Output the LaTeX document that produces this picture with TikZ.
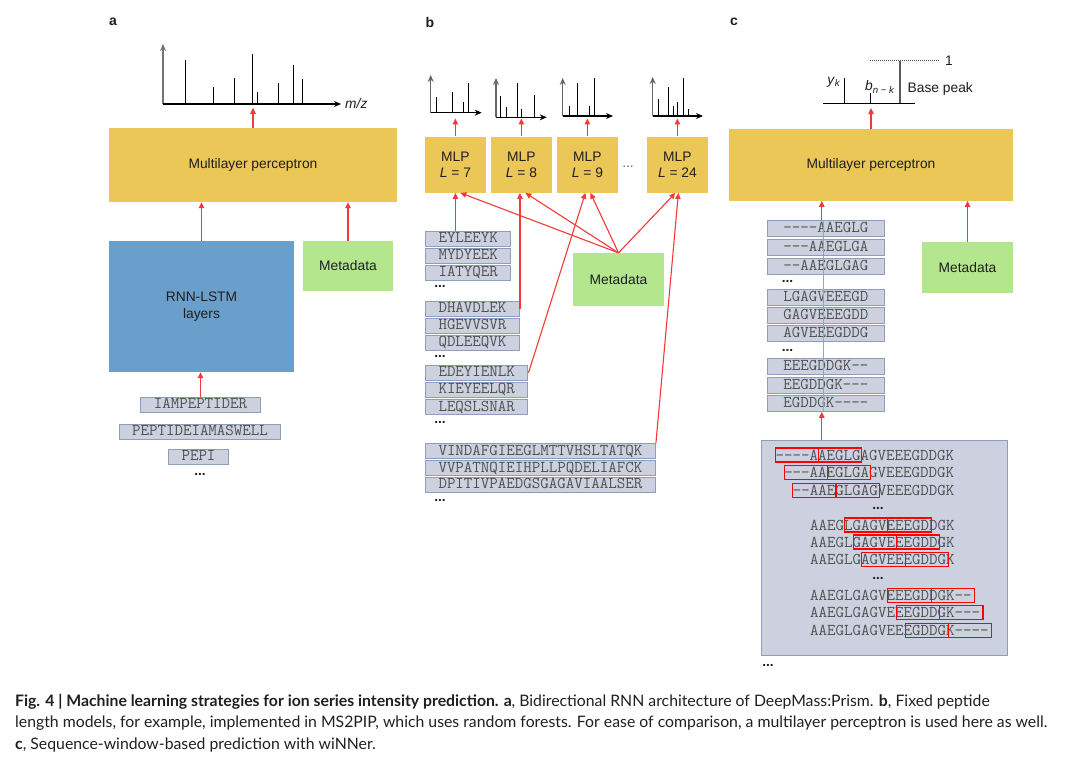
\documentclass[tikz,border=0pt]{standalone}
\usepackage{fontspec}
\setsansfont{Liberation Sans}
\newfontfamily\captionfont{Lato}
\usepackage{xcolor}
\usetikzlibrary{arrows.meta}

\definecolor{mlpyellow}{HTML}{EAC757}
\definecolor{rnnblue}{HTML}{6A9FCC}
\definecolor{metagreen}{HTML}{B3E68D}
\definecolor{pepfill}{HTML}{CDD1DF}
\definecolor{pepedge}{HTML}{8D9DBE}
\definecolor{peptext}{HTML}{505050}
\definecolor{feedred}{HTML}{F23A3A}
\definecolor{winblue}{HTML}{7FAAD8}
\definecolor{captext}{HTML}{231F20}

\begin{document}
\begin{tikzpicture}[x=1pt,y=-1pt,inner sep=0pt,
    font=\sffamily\fontsize{13.8}{17}\selectfont,text=black!88,
    block/.style={draw=none,align=center},
    pep/.style={draw=pepedge,fill=pepfill,line width=1pt,text=peptext,
        font=\ttfamily\fontsize{16.5}{16.5}\selectfont,inner xsep=13pt,
        text height=10pt,text depth=2pt,minimum height=15pt},
    seq/.style={text=peptext,font=\ttfamily\fontsize{16.5}{16.5}\selectfont,
        text height=10pt,text depth=0pt},
    feed/.style={draw=feedred,line width=1.1pt,-{Triangle[length=6pt,width=5.5pt]}},
    axis/.style={line width=1.3pt,-{Stealth[length=7pt,width=6pt]}},
    peak/.style={line width=1pt},
    dots/.style={font=\sffamily\bfseries\fontsize{13.8}{14}\selectfont,text height=2pt,text depth=0pt},
    window/.style={draw=red,line width=1.1pt},
    panel/.style={font=\sffamily\bfseries\fontsize{14}{14}\selectfont},
    capline/.style={anchor=base west,text=captext,font=\captionfont\fontsize{15.8}{21.5}\selectfont},
]
\fill[white] (0,0) rectangle (1080,765);
\useasboundingbox (0,0) rectangle (1080,765);

% a
\node[panel] (labA) at (113,22) {a};
\foreach \px/\py in {185.7/60,213/87,234/78,252/54,257/92,278/83,293/65,302/79}
    \draw[peak] (\px,104) -- (\px,\py);
\draw[axis,draw=black!55] (163,104) -- (163,44);
\draw[axis] (163,104) -- (341,104);
\node[anchor=west,font=\sffamily\itshape\fontsize{13.8}{14}\selectfont] (mzA) at (345,104) {m/z};

\node[block,fill=mlpyellow,minimum width=288pt,minimum height=74pt] (mlpA) at (253,165) {Multilayer perceptron};
\node[block,fill=rnnblue,minimum width=185pt,minimum height=131pt] (rnn) at (201.5,306.5) {RNN-LSTM\\layers};
\node[block,fill=metagreen,minimum width=90pt,minimum height=50pt] (metaA) at (348,266) {Metadata};
\node[pep] (pepA1) at (200.5,404.5) {IAMPEPTIDER};
\node[pep] (pepA2) at (200,431.5) {PEPTIDEIAMASWELL};
\node[pep] (pepA3) at (198.5,456.5) {PEPI};
\node[dots] (dotsA) at (200,474) {...};

\coordinate (specA) at ([yshift=20pt]mlpA.north);
\draw[feed] (mlpA.north) -- (specA);
\draw[feed] (rnn.north) -- (rnn.north |- mlpA.south);
\draw[feed] (metaA.north) -- (metaA.north |- mlpA.south);
\draw[feed] (pepA1.north) -- (pepA1.north |- rnn.south);

% b
\node[panel] (labB) at (430,22) {b};
\foreach \ox/\oy/\w/\h/\pks in {430.7/112.7/51/37.7/{5.3/15.7,21.3/20.7,32.3/10.7,37.3/29.7},
        496/117.3/50.7/39.3/{4.7/21.6,10.7/10.6,21/34.3,25/8.3,38/22.3},
        562.7/116/50.3/38/{6.3/10,15/33,26.3/10,31.3/38},
        652.7/116/50.3/39/{5.3/17,15.3/29,20.3/10,25/14,30.3/38,35.3/7}} {
    \begin{scope}[shift={(\ox,\oy)}]
        \foreach \dx/\ph in \pks
            \draw[peak] (\dx,0) -- (\dx,-\ph);
        \draw[axis,draw=black!60] (0,0) -- (0,-\h);
        \draw[axis] (0,0) -- (\w,0);
    \end{scope}
}
\foreach \n/\cx in {7/455.4,8/521.4,9/587.4,24/677.4} {
    \node[block,fill=mlpyellow,minimum width=60.7pt,minimum height=56pt,
        font=\sffamily\fontsize{13.8}{16}\selectfont] (mlp\n) at (\cx,164.7) {MLP\\\textit{L} = \n};
    \coordinate (spec\n) at ([yshift=18pt]mlp\n.north);
    \draw[feed] (mlp\n.north) -- (spec\n);
}
\node[dots,font=\sffamily\fontsize{13.8}{14}\selectfont,text=black!60] (dotsB) at (628,166.7) {...};
\node[block,fill=metagreen,minimum width=91pt,minimum height=52.7pt] (metaB) at (618.5,279.4) {Metadata};
\foreach \n/\dx in {7/5,8/4,9/3,24/-2}
    \draw[feed] (metaB.north) -- ([xshift=\dx pt]mlp\n.south);

\foreach \seq/\yy [count=\i] in {EYLEEYK/238.7,MYDYEEK/255.5,IATYQER/272.5,
        DHAVDLEK/308.8,HGEVVSVR/325.8,QDLEEQVK/342.5,
        EDEYIENLK/372.8,KIEYEELQR/389.8,LEQSLSNAR/407,
        VINDAFGIEEGLMTTVHSLTATQK/451,VVPATNQIEIHPLLPQDELIAFCK/468,DPITIVPAEDGSGAGAVIAALSER/484.8}
    \node[pep,anchor=west] (pepB\i) at (425,\yy) {\seq};
\foreach \yy [count=\i] in {286.7,356.7,422.7,500}
    \node[dots] (dotsB\i) at (440,\yy) {...};

\draw[feed] (pepB1.north -| mlp7.south) -- (mlp7.south);
\draw[feed] (pepB4.east) -- (pepB4.east |- mlp8.south);
\draw[feed] (pepB7.east) -- ([xshift=-2pt]mlp9.south);
\draw[feed] (pepB10.north east) -- ([xshift=1pt]mlp24.south);

% c
\node[panel] (labC) at (734,22) {c};
\draw[line width=1.1pt] (823,103.3) -- (915,103.3);
\foreach \px/\py in {844.3/78.3,870.7/93.3}
    \draw[line width=1.1pt] (\px,103.3) -- (\px,\py);
\draw[line width=1.3pt,black!65] (900,103.3) -- (900,60.7);
\draw[line width=1pt,dash pattern=on 1pt off 1pt,black!70] (870,60.7) -- (940,60.7);
\node[anchor=west] (one) at (945,60.7) {1};
\node (yk) at (834,82.5) {\textit{y}\textsubscript{\textit{k}}};
\node (bnk) at (880,87) {\textit{b}\textsubscript{\textit{n} − \textit{k}}};
\node[anchor=west] (basepeak) at (907.5,89.3) {Base peak};

\node[block,fill=mlpyellow,minimum width=283.4pt,minimum height=71.4pt] (mlpC) at (871,165) {Multilayer perceptron};
\coordinate (specC) at ([yshift=21pt]mlpC.north);
\draw[feed] (mlpC.north) -- (specC);

\foreach \seq/\yy [count=\i] in {----AAEGLG/229,---AAEGLGA/247.2,--AAEGLGAG/266.2,
        LGAGVEEEGD/297.2,GAGVEEEGDD/315.8,AGVEEEGDDG/333.8,
        EEEGDDGK--/366.2,EEGDDGK---/385,EGDDGK----/403.3}
    \node[pep,minimum width=117pt,minimum height=16pt] (win\i) at (825.8,\yy) {\seq};
\node[dots] (dotsC1) at (787.5,281.7) {...};
\node[dots] (dotsC2) at (787.5,350) {...};
\draw[winblue,line width=1.5pt] ([xshift=-2.5pt]win1.north) -- ([xshift=-2.5pt]win9.south);

\node[block,fill=metagreen,minimum width=90.4pt,minimum height=51pt] (metaC) at (967.5,267.2) {Metadata};
\draw[feed] ([xshift=-4pt]win1.north) -- ([xshift=-4pt]win1.north |- mlpC.south);
\draw[feed] (metaC.north) -- (metaC.north |- mlpC.south);

\node[draw=pepedge,fill=pepfill,line width=1pt,minimum width=245.6pt,minimum height=215.7pt] (seqbox) at (884.5,547.85) {};
\draw[feed] ([xshift=-4pt]win9.south |- seqbox.north) -- ([xshift=-4pt]win9.south);

\def\pitch{8.652}
\foreach \seq/\ts/\ws/\yy [count=\i] in {----AAEGLGAGVEEEGDDGK/-4/-4/455,---AAEGLGAGVEEEGDDGK/-3/-3/472.8,
        --AAEGLGAGVEEEGDDGK/-2/-2/490.5,AAEGLGAGVEEEGDDGK/0/4/525,AAEGLGAGVEEEGDDGK/0/5/542,
        AAEGLGAGVEEEGDDGK/0/6/559.7,AAEGLGAGVEEEGDDGK--/0/9/595.3,
        AAEGLGAGVEEEGDDGK---/0/10/612.8,AAEGLGAGVEEEGDDGK----/0/11/630.3} {
    \node[seq,anchor=west] (row\i) at ({810+\ts*\pitch},\yy) {\seq};
    \draw[window] ({810+\ws*\pitch},{\yy-7}) rectangle ++({5*\pitch},14);
    \draw[window] ({810+(\ws+5)*\pitch},{\yy-7}) rectangle ++({5*\pitch},14);
}
\node[dots] (dotsC3) at (878,508) {...};
\node[dots] (dotsC4) at (878,578) {...};
\node[dots] (dotsC5) at (768,665) {...};

% caption
\node[capline] (caption1) at (15,706)
    {\textbf{Fig. 4 | Machine learning strategies for ion series intensity prediction. a}, Bidirectional RNN architecture of DeepMass:Prism. \textbf{b}, Fixed peptide};
\node[capline] (caption2) at (15,727.5)
    {length models, for example, implemented in MS2PIP, which uses random forests. For ease of comparison, a multilayer perceptron is used here as well.};
\node[capline] (caption3) at (15,749)
    {\textbf{c}, Sequence-window-based prediction with wiNNer.};
\end{tikzpicture}
\end{document}
